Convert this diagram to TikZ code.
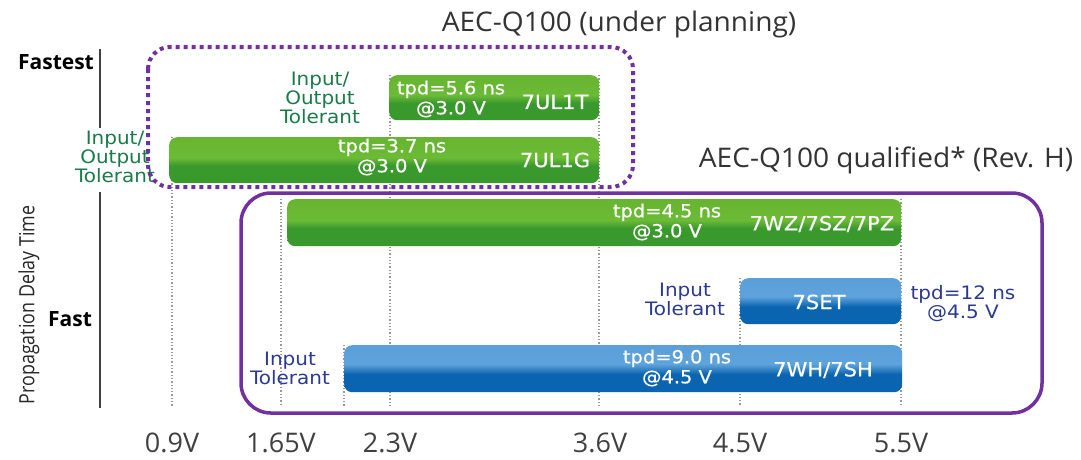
\documentclass[tikz,border=0pt]{standalone}
\usepackage{fontspec}
\setmainfont{Open Sans}
\newfontfamily\barfont[FakeStretch=1.08]{DejaVu Sans}
\newfontfamily\barboldfont[FakeStretch=1.08,FakeBold=0.5]{DejaVu Sans}
\newfontfamily\titlefont[FakeStretch=1.04]{Open Sans}
\definecolor{gtop}{HTML}{66B42F}
\definecolor{glight}{HTML}{6CBB36}
\definecolor{gdark}{HTML}{3A992D}
\definecolor{btop}{HTML}{5A9FD8}
\definecolor{blight}{HTML}{5EA3DB}
\definecolor{bdark}{HTML}{0A64B0}
\definecolor{purp}{HTML}{7030A0}
\definecolor{lgreen}{HTML}{1B7A4A}
\definecolor{lblue}{HTML}{2B3990}
\definecolor{axgray}{HTML}{404040}
\pgfdeclareverticalshading{gshade}{100bp}{color(0bp)=(gdark); color(25bp)=(gdark); color(44bp)=(gdark); color(53bp)=(glight); color(75bp)=(gtop); color(100bp)=(gtop)}
\pgfdeclareverticalshading{bshade}{100bp}{color(0bp)=(bdark); color(25bp)=(bdark); color(44bp)=(bdark); color(55bp)=(blight); color(75bp)=(btop); color(100bp)=(btop)}
\tikzset{
  barbox/.style={anchor=north west, inner sep=0pt, rounded corners=8pt, draw=none},
  gbar/.style={barbox, shading=gshade},
  bbar/.style={barbox, shading=bshade},
  bartext/.style={text=white, align=center, font=\barboldfont\fontsize{18}{20}\selectfont, inner sep=0pt},
  barname/.style={text=white, font=\barboldfont\fontsize{19.5}{22}\selectfont, inner sep=0pt},
  glabel/.style={text=lgreen, align=center, font=\barfont\fontsize{18.5}{19}\selectfont, inner sep=0pt},
  blabel/.style={text=lblue, align=center, font=\barfont\fontsize{18.5}{19}\selectfont, inner sep=0pt},
  vlabel/.style={text=axgray, font=\fontsize{27}{30}\selectfont, inner sep=0pt},
  title/.style={text=black!80, font=\titlefont\fontsize{27}{30}\selectfont, inner sep=0pt},
  grid/.style={draw=gray!80, line width=1.3pt, dotted},
  axisline/.style={draw=axgray, line width=2.5pt},
  speed/.style={font=\bfseries\fontsize{21}{24}\selectfont, inner sep=0pt},
}
\begin{document}
\begin{tikzpicture}[x=1pt,y=-1pt]
\useasboundingbox (0,0) rectangle (1081,459);
% grid lines
\draw[grid] (172,137) -- (172,406);
\draw[grid] (281,199) -- (281,406);
\draw[grid] (344,345) -- (344,406);
\draw[grid] (390,75) -- (390,406);
\draw[grid] (599,75) -- (599,406);
\draw[grid] (740,278) -- (740,406);
\draw[grid] (901,199) -- (901,406);
% axis
\draw[axisline] (100,49) -- (100,128);
\draw[axisline] (100,192) -- (100,408);
\node[speed] (fastest) at (56,62) {Fastest};
\node[speed] (fast) at (70,319) {Fast};
\node[rotate=90, font=\fontsize{21}{22}\selectfont, text=black!85, inner sep=0pt] (pdt) at (29,305) {\scalebox{0.85}[1]{Propagation Delay Time}};
% bars
\node[gbar, minimum width=210pt, minimum height=45pt] (b1) at (389,75) {};
\node[gbar, minimum width=430pt, minimum height=46pt] (b2) at (169,137) {};
\node[gbar, minimum width=614pt, minimum height=47pt] (b3) at (287,199) {};
\node[bbar, minimum width=161pt, minimum height=46pt] (b4) at (740,278) {};
\node[bbar, minimum width=558pt, minimum height=47pt] (b5) at (344,345) {};
% bar texts
\node[bartext] (t1) at (451,99) {tpd=5.6 ns\\@3.0 V};
\node[barname] (n1) at (555,102) {7UL1T};
\node[bartext] (t2) at (392,157) {tpd=3.7 ns\\@3.0 V};
\node[barname] (n2) at (555,160) {7UL1G};
\node[bartext] (t3) at (667,222) {tpd=4.5 ns\\@3.0 V};
\node[barname] (n3) at (822,224) {7WZ/7SZ/7PZ};
\node[barname] (n4) at (819,302) {7SET};
\node[bartext] (t5) at (677,368) {tpd=9.0 ns\\@4.5 V};
\node[barname] (n5) at (823,370) {7WH/7SH};
% side labels
\node[glabel] (l1) at (320,98) {Input/\\Output\\Tolerant};
\node[glabel] (l2) at (115,157) {Input/\\Output\\Tolerant};
\node[blabel] (l3) at (685,299) {Input\\Tolerant};
\node[blabel] (l4) at (963,304) {tpd=12 ns\\@4.5 V};
\node[blabel] (l5) at (290,368) {Input\\Tolerant};
% voltage labels
\node[vlabel] (v1) at (172,443) {0.9V};
\node[vlabel] (v2) at (281,443) {1.65V};
\node[vlabel] (v3) at (390,443) {2.3V};
\node[vlabel] (v4) at (600,443) {3.6V};
\node[vlabel] (v5) at (740,443) {4.5V};
\node[vlabel] (v6) at (901,443) {5.5V};
% groups
\draw[purp, line width=4pt, dash pattern=on 4pt off 4pt, rounded corners=22pt] (148,47) rectangle (633,187);
\draw[purp, line width=3.5pt, rounded corners=30pt] (241,193) rectangle (1042,413);
\node[title] (g1) at (619,24) {AEC-Q100 (under planning)};
\node[title] (g2) at (886,160) {AEC-Q100 qualified* (Rev. H)};
\end{tikzpicture}
\end{document}
